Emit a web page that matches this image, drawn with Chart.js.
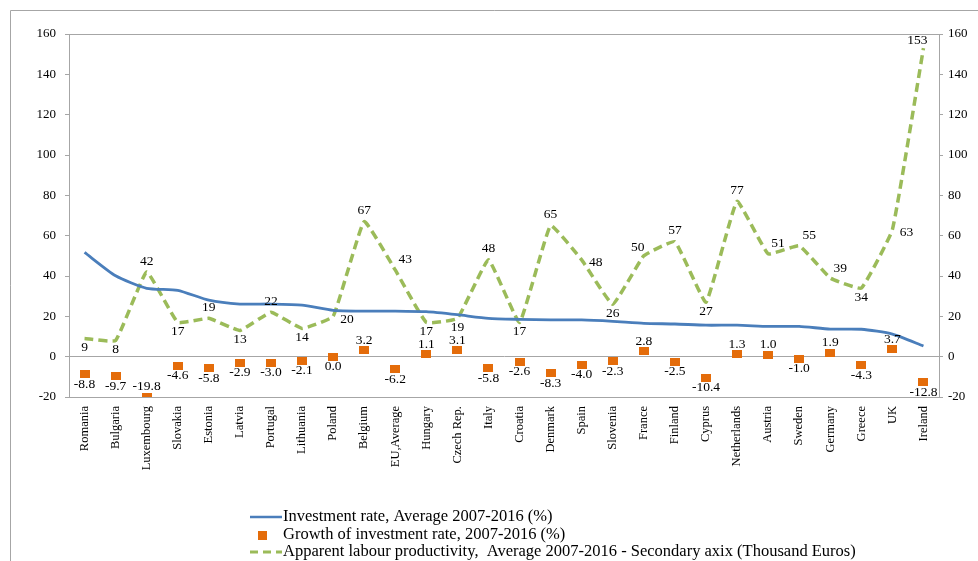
<!DOCTYPE html>
<html>
<head>
<meta charset="utf-8">
<script src="https://cdn.jsdelivr.net/npm/chart.js@4.4.1/dist/chart.umd.min.js"></script>
<style>
  html, body { margin: 0; padding: 0; background: #fff; }
  canvas { display: block; }
</style>
</head>
<body>
<canvas id="chart" width="978" height="561"></canvas>
<script>
// categorias (eixo X)
const countries = ['Romania', 'Bulgaria', 'Luxembourg', 'Slovakia', 'Estonia', 'Latvia', 'Portugal',
  'Lithuania', 'Poland', 'Belgium', 'EU,Average', 'Hungary', 'Czech Rep.', 'Italy', 'Croatia',
  'Denmark', 'Spain', 'Slovenia', 'France', 'Finland', 'Cyprus', 'Netherlands', 'Austria',
  'Sweden', 'Germany', 'Greece', 'UK', 'Ireland'];

// séries
const investmentRate = [51.7, 40.1, 33.9, 32.9, 28.0, 26.1, 26.1, 25.6, 23.0, 22.6, 22.6, 22.3,
  20.8, 19.0, 18.5, 18.2, 18.2, 17.5, 16.5, 16.2, 15.6, 15.6, 15.0, 15.0, 13.7, 13.6, 11.2, 5.3];
const investmentGrowth = [-8.8, -9.7, -19.8, -4.6, -5.8, -2.9, -3.0, -2.1, 0.0, 3.2, -6.2, 1.1,
  3.1, -5.8, -2.6, -8.3, -4.0, -2.3, 2.8, -2.5, -10.4, 1.3, 1.0, -1.0, 1.9, -4.3, 3.7, -12.8];
const labourProductivity = [9, 8, 42, 17, 19, 13, 22, 14, 20, 67, 43, 17, 19, 48, 17, 65, 48, 26,
  50, 57, 27, 77, 51, 55, 39, 34, 63, 153];

const seriesNames = [
  'Investment rate, Average 2007-2016 (%)',
  'Growth of investment rate, 2007-2016 (%)',
  'Apparent labour productivity,  Average 2007-2016 - Secondary axix (Thousand Euros)'
];

// onde fica o rótulo de cada ponto
const productivityLabelPos = ['bottom', 'bottom', 'top', 'bottom', 'top', 'bottom', 'top', 'bottom',
  'right', 'top', 'topright', 'bottom', 'bottom', 'top', 'bottom', 'top', 'right', 'bottom',
  'topleft', 'top', 'bottom', 'top', 'topright', 'topright', 'topright', 'bottom', 'right', 'topleft'];
const growthLabelPos = investmentGrowth.map((v, i) => (i === 2 || v > 0) ? 'mtop' : 'mbottom');

const FONT = "'Liberation Serif', 'Times New Roman', serif";
const BLUE = '#4a7ebb';
const ORANGE = '#e46c0a';
const GREEN = '#9bbb59';
const AXIS = '#a6a6a6';

const offsets = {
  top: [0, -11], bottom: [0, 9], right: [14, 3],
  topleft: [-6, -8], topright: [10, -10],
  mtop: [0, -10], mbottom: [0, 10]
};

// marcador retangular laranja
const marker = document.createElement('canvas');
marker.width = 10; marker.height = 8;
const mctx = marker.getContext('2d');
mctx.fillStyle = ORANGE;
mctx.fillRect(0, 0, 10, 8);

// moldura, borda da área do gráfico e legenda
const framePlugin = {
  id: 'frame',
  beforeDraw(chart) {
    const c = chart.ctx;
    c.save();
    c.strokeStyle = AXIS;
    c.lineWidth = 1;
    c.beginPath();
    c.moveTo(10.5, 561); c.lineTo(10.5, 10.5); c.lineTo(978, 10.5);
    c.stroke();
    const a = chart.chartArea;
    c.strokeRect(Math.round(a.left) + 0.5, Math.round(a.top) + 0.5,
      Math.round(a.right - a.left), Math.round(a.bottom - a.top));
    c.restore();
  },
  afterDraw(chart) {
    const c = chart.ctx;
    c.save();
    c.font = '16.5px ' + FONT;
    c.textBaseline = 'middle';
    const rows = [517, 535, 552];
    // linha azul
    c.strokeStyle = BLUE; c.lineWidth = 2.5;
    c.beginPath(); c.moveTo(250, rows[0]); c.lineTo(282, rows[0]); c.stroke();
    // quadrado laranja
    c.fillStyle = ORANGE;
    c.fillRect(258, rows[1] - 4, 9, 9);
    // linha verde tracejada
    c.strokeStyle = GREEN; c.lineWidth = 3;
    c.setLineDash([8, 5]);
    c.beginPath(); c.moveTo(250, rows[2]); c.lineTo(282, rows[2]); c.stroke();
    c.setLineDash([]);
    c.fillStyle = '#000';
    seriesNames.forEach((name, i) => c.fillText(name, 283, rows[i]));
    c.restore();
  }
};

// rótulos dos pontos
const labelsPlugin = {
  id: 'pointLabels',
  afterDatasetsDraw(chart) {
    const c = chart.ctx;
    c.save();
    c.font = '13.5px ' + FONT;
    c.fillStyle = '#000';
    c.textAlign = 'center';
    c.textBaseline = 'middle';
    chart.data.datasets.forEach((ds, di) => {
      if (!ds.labelPos) return;
      const meta = chart.getDatasetMeta(di);
      meta.data.forEach((pt, i) => {
        const v = ds.data[i];
        const txt = ds.decimals ? v.toFixed(ds.decimals) : String(v);
        const off = offsets[ds.labelPos[i]];
        c.fillText(txt, pt.x + off[0], pt.y + off[1]);
      });
    });
    c.restore();
  }
};

const yAxis = (position) => ({
  type: 'linear',
  position: position,
  min: -20,
  max: 160,
  ticks: {
    stepSize: 20,
    padding: position === 'left' ? 9 : 5,
    color: '#000',
    font: { family: FONT, size: 13 }
  },
  grid: {
    drawOnChartArea: position === 'left',
    color: ctx => (ctx.tick && ctx.tick.value === 0) ? AXIS : 'transparent',
    tickColor: AXIS,
    tickLength: 4
  },
  border: { display: true, color: AXIS },
  afterFit(scale) { scale.width = position === 'left' ? 69 : 39; }
});

new Chart(document.getElementById('chart'), {
  type: 'line',
  data: {
    labels: countries,
    datasets: [
      {
        label: seriesNames[0],
        data: investmentRate,
        yAxisID: 'y',
        borderColor: BLUE,
        borderWidth: 2.8,
        pointRadius: 0,
        tension: 0.2,
        fill: false
      },
      {
        label: seriesNames[1],
        data: investmentGrowth,
        yAxisID: 'y',
        showLine: false,
        pointStyle: marker,
        pointRadius: 5,
        labelPos: growthLabelPos,
        decimals: 1
      },
      {
        label: seriesNames[2],
        data: labourProductivity,
        yAxisID: 'y2',
        borderColor: GREEN,
        borderWidth: 3.5,
        borderDash: [9, 5],
        pointRadius: 0,
        tension: 0.1,
        fill: false,
        labelPos: productivityLabelPos
      }
    ]
  },
  options: {
    responsive: false,
    animation: false,
    layout: { padding: { top: 34, left: 0, right: 0, bottom: 0 } },
    plugins: {
      legend: { display: false },
      tooltip: { enabled: false }
    },
    scales: {
      x: {
        offset: true,
        grid: { display: false, drawTicks: false },
        border: { display: false },
        ticks: {
          autoSkip: false,
          minRotation: 90,
          maxRotation: 90,
          padding: 9,
          color: '#000',
          font: { family: FONT, size: 12.5 }
        },
        afterFit(scale) { scale.height = 164; }
      },
      y: yAxis('left'),
      y2: yAxis('right')
    }
  },
  plugins: [framePlugin, labelsPlugin]
});
</script>
</body>
</html>
